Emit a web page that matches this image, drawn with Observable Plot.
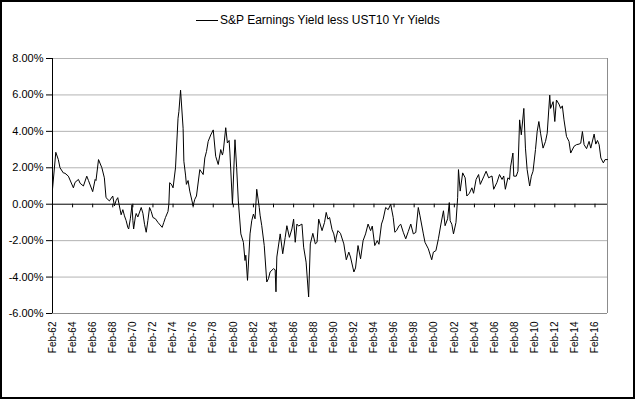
<!DOCTYPE html>
<html><head><meta charset="utf-8">
<script src="https://cdn.jsdelivr.net/npm/d3@7"></script>
<script src="https://cdn.jsdelivr.net/npm/@observablehq/plot@0.6"></script>
<style>
html,body{margin:0;padding:0;background:#fff;}
#wrap{position:relative;width:635px;height:399px;overflow:hidden;font-family:"Liberation Sans",Arial,sans-serif;background:#fff;}
#frame{position:absolute;left:0;top:0;width:635px;height:399px;box-sizing:border-box;border:2px solid #000;pointer-events:none;}
#legend{position:absolute;left:196px;top:12px;font-size:12px;line-height:16px;display:flex;align-items:center;white-space:nowrap;color:#000}
#legend .swatch{display:inline-block;width:22px;height:0;border-top:1px solid #000;margin-right:2px}
#chart{position:absolute;left:0;top:0}
</style>
</head>
<body>
<div id="wrap">
  <div id="chart"></div>
  <div id="legend"><span class="swatch"></span><span>S&amp;P Earnings Yield less UST10 Yr Yields</span></div>
  <div id="frame"></div>
</div>
<script>
const seriesName = "S&P Earnings Yield less UST10 Yr Yields";
const dates = [
"1962-02","1962-06","1962-09","1962-11","1963-03","1963-05","1963-09","1964-03","1964-05","1964-09","1964-11",
"1965-03","1965-07","1965-09","1966-02","1966-05","1966-06","1966-09","1967-01","1967-04","1967-06","1967-10",
"1968-02","1968-04","1968-06","1968-08","1968-12","1969-02","1969-04","1969-06","1969-08","1969-09","1969-11",
"1970-01","1970-02","1970-03","1970-05","1970-06","1970-08","1970-12","1971-02","1971-04","1971-06","1971-08",
"1971-10","1971-12","1972-02","1972-05","1972-08","1973-01","1973-03","1973-05","1973-08","1973-09","1973-10",
"1973-12","1974-02","1974-05","1974-08","1974-09","1974-11","1975-02","1975-03","1975-05","1975-06","1975-08",
"1975-10","1976-02","1976-04","1976-06","1976-10","1977-02","1977-04","1977-06","1977-08","1977-11","1978-02",
"1978-05","1978-08","1978-11","1979-01","1979-02","1979-05","1979-07","1979-09","1979-10","1980-01","1980-04",
"1980-06","1980-08","1980-11","1981-02","1981-04","1981-05","1981-07","1981-10","1981-12","1982-02","1982-04",
"1982-06","1982-09","1982-10","1982-12","1983-03","1983-06","1983-08","1983-10","1984-02","1984-04","1984-05",
"1984-06","1984-10","1985-01","1985-04","1985-06","1985-09","1985-12","1986-02","1986-04","1986-06","1986-08",
"1986-12","1987-02","1987-05","1987-08","1987-10","1988-01","1988-04","1988-06","1988-08","1988-12","1989-03",
"1989-05","1989-07","1989-09","1989-12","1990-02","1990-04","1990-05","1990-07","1990-10","1991-02","1991-05",
"1991-08","1991-10","1992-02","1992-04","1992-07","1992-10","1993-01","1993-04","1993-07","1993-10","1993-12",
"1994-03","1994-06","1994-08","1994-11","1995-01","1995-04","1995-07","1995-10","1996-01","1996-03","1996-05",
"1996-08","1996-10","1997-01","1997-04","1997-07","1997-10","1998-01","1998-04","1998-07","1998-09","1999-01",
"1999-03","1999-07","1999-11","2000-01","2000-04","2000-07","2000-10","2001-01","2001-03","2001-06","2001-08",
"2001-09","2001-11","2002-01","2002-04","2002-06","2002-07","2002-09","2002-12","2003-03","2003-05","2003-08",
"2003-11","2004-01","2004-04","2004-07","2004-09","2005-01","2005-04","2005-07","2005-11","2006-01","2006-05",
"2006-08","2006-11","2007-01","2007-03","2007-06","2007-08","2007-09","2007-12","2008-01","2008-04","2008-06",
"2008-08","2008-10","2009-01","2009-03","2009-05","2009-08","2009-10","2009-12","2010-03","2010-05","2010-07",
"2010-09","2010-12","2011-03","2011-05","2011-08","2011-09","2011-12","2012-02","2012-04","2012-07","2012-09",
"2012-11","2013-01","2013-04","2013-07","2013-09","2014-01","2014-04","2014-07","2014-09","2014-11","2015-01",
"2015-04","2015-07","2015-09","2016-01","2016-03","2016-05","2016-07","2016-09","2016-12","2017-02","2017-05"
];
const values = [
0.82,2.85,2.45,2.0,1.72,1.7,1.54,0.9,1.2,1.36,1.15,
1.0,1.54,1.3,0.69,1.36,1.3,2.45,2.0,1.45,0.36,0.18,
0.45,-0.09,0.2,0.36,-0.58,-0.3,-0.64,-0.9,-1.27,-1.36,-0.8,
-0.04,-0.9,-1.36,-0.7,-0.51,-0.7,-0.18,-0.5,-1.1,-1.54,-0.9,
-0.18,-0.4,-0.73,-0.8,-1.0,-1.27,-1.0,-0.73,-0.4,0,1.18,
1.1,0.9,2.0,4.72,5.08,6.26,4.17,2.36,1.6,1.09,1.3,
0.72,-0.09,0.27,0.45,1.9,1.63,2.54,2.9,3.45,3.8,4.08,
2.63,2.18,3.0,2.7,2.9,4.2,3.36,3.5,2.81,0,3.54,
2.0,0.18,-1.63,-2.09,-3.09,-2.8,-4.18,-1.63,-0.91,-0.54,-0.8,
0.82,-0.18,-0.6,-1.18,-2.27,-4.27,-4.09,-3.72,-3.54,-3.6,-4.81,
-2.9,-1.63,-2.72,-1.82,-1.18,-1.82,-1.36,-0.82,-2.09,-1.09,-1.2,
-1.09,-2.36,-3.18,-5.09,-2.18,-1.6,-2.18,-2.09,-0.82,-1.45,-1.0,
-0.45,-0.82,-0.73,-1.4,-1.63,-2.09,-1.8,-1.45,-1.6,-2.18,-3.05,
-2.63,-2.9,-3.72,-3.5,-2.27,-3.0,-2.0,-1.63,-1.09,-1.45,-1.2,
-2.27,-2.0,-2.2,-1.09,-0.82,-0.18,-0.3,0,-0.73,-1.54,-1.45,
-1.18,-1.1,-1.54,-1.9,-1.5,-1.09,-1.63,-1.55,-0.18,-0.64,-1.63,
-2.09,-2.45,-3.05,-2.63,-2.55,-1.9,-1.09,-0.36,-1.18,-0.8,0.09,
-0.91,-1.1,-1.63,-1.0,0.36,1.9,0.72,1.72,1.45,0.45,0.6,
0.9,0.6,1.36,1.63,1.09,1.5,1.81,1.45,1.55,0.82,1.2,
1.63,1.36,1.55,0.82,1.45,1.36,2.0,2.81,1.54,1.54,1.81,
4.63,3.81,5.26,3.08,1.9,1.0,1.54,1.81,3.0,3.99,4.54,
3.9,3.08,3.45,3.9,5.99,5.26,5.63,4.54,5.72,5.5,5.26,
5.4,4.63,3.72,3.45,2.81,3.18,3.27,3.3,3.35,3.99,3.27,
3.05,3.45,3.08,3.85,3.3,3.5,3.27,2.54,2.27,2.45,2.45
];
const tickLabels = ["Feb-62","Feb-64","Feb-66","Feb-68","Feb-70","Feb-72","Feb-74","Feb-76","Feb-78","Feb-80",
"Feb-82","Feb-84","Feb-86","Feb-88","Feb-90","Feb-92","Feb-94","Feb-96","Feb-98","Feb-00","Feb-02","Feb-04",
"Feb-06","Feb-08","Feb-10","Feb-12","Feb-14","Feb-16"];
const yTicks = [-6,-4,-2,0,2,4,6,8];

const parseYM = d3.utcParse("%Y-%m");
const data = dates.map((d, i) => ({date: parseYM(d), value: values[i]}));
const tickDates = tickLabels.map(l => {
  const yy = +l.slice(4);
  return new Date(Date.UTC(yy < 50 ? 2000 + yy : 1900 + yy, 1, 1));
});
const labelFor = new Map(tickDates.map((d, i) => [+d, tickLabels[i]]));
const xStart = data[0].date;
const xEnd = data[data.length - 1].date;

const chart = Plot.plot({
  width: 635,
  height: 399,
  marginLeft: 52,
  marginRight: 28,
  marginTop: 58,
  marginBottom: 86,
  x: {type: "utc", domain: [xStart, xEnd]},
  y: {domain: [-6, 8]},
  style: {fontFamily: "'Liberation Sans', Arial, sans-serif", fontSize: "11px", color: "#000", background: "transparent", overflow: "visible"},
  marks: [
    Plot.ruleY(yTicks.filter(t => t !== 0 && t !== -6), {stroke: "#b3b3b3", strokeWidth: 1}),
    Plot.ruleY([-6], {stroke: "#8c8c8c", strokeWidth: 1}),
    Plot.ruleX([xEnd], {stroke: "#8c8c8c", strokeWidth: 1}),
    Plot.ruleY([0], {stroke: "#000", strokeWidth: 1}),
    Plot.ruleX(tickDates, {x: d => d, y1: 0, y2: -0.2, stroke: "#000", strokeWidth: 1}),
    Plot.ruleX([xStart], {stroke: "#000", strokeWidth: 1}),
    Plot.line(data, {x: "date", y: "value", stroke: "#000", strokeWidth: 1}),
    Plot.axisY({ticks: yTicks, tickFormat: v => v.toFixed(2) + "%", tickSize: 6, tickPadding: 3, label: null, fontSize: 11}),
    Plot.axisX({ticks: tickDates, tickFormat: d => labelFor.get(+d), tickRotate: -90, tickSize: 0, tickPadding: 8, label: null, fontSize: 10})
  ]
});
document.getElementById("chart").appendChild(chart);
</script>
</body></html>
